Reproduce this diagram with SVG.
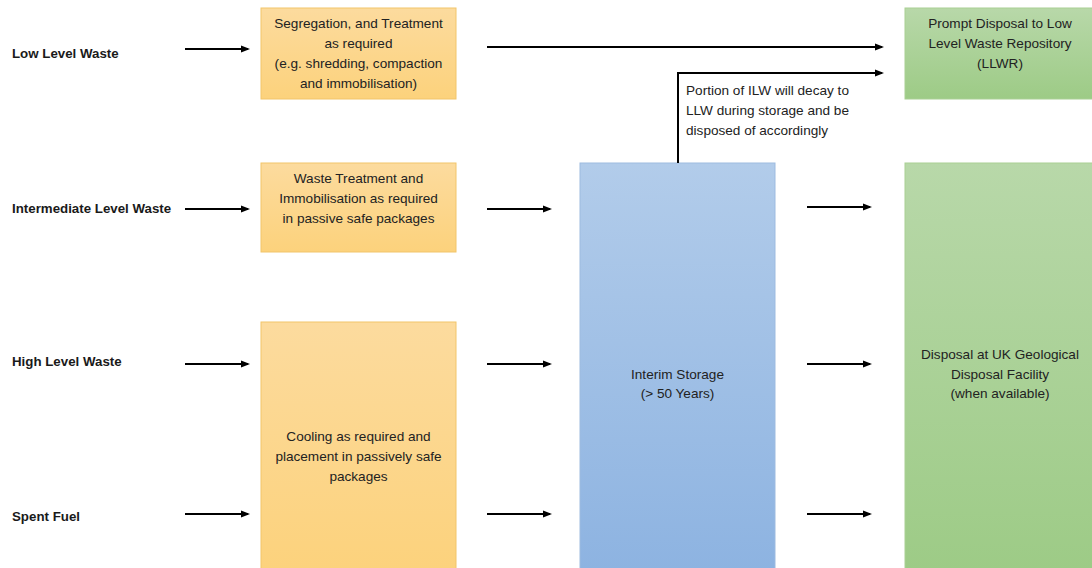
<svg xmlns="http://www.w3.org/2000/svg" width="1092" height="568" viewBox="0 0 1092 568">
<style>
.lbl{font-family:"Liberation Sans",Arial,sans-serif;font-size:13.3px;font-weight:bold;fill:#1a1a1a}
.t{font-family:"Liberation Sans",Arial,sans-serif;font-size:13.6px;fill:#222;text-anchor:middle}
.tl{font-family:"Liberation Sans",Arial,sans-serif;font-size:13.6px;fill:#222}
.conn{stroke:#000;stroke-width:2;fill:none;marker-end:url(#ah)}
.or{fill:url(#gO);stroke:#F2C56A;stroke-width:1}
.bl{fill:url(#gB);stroke:#9DBBE0;stroke-width:1}
.gr{fill:url(#gG);stroke:#A9CF94;stroke-width:1}
</style>
<defs>
<marker id="ah" markerWidth="9" markerHeight="9" refX="7" refY="4.5" orient="auto" markerUnits="userSpaceOnUse"><path d="M0,1 L9,4.5 L0,8 Z" fill="#000"/></marker>
<linearGradient id="gO" x1="0" y1="0" x2="0" y2="1"><stop offset="0" stop-color="#FCDB9E"/><stop offset="1" stop-color="#FCD27C"/></linearGradient>
<linearGradient id="gB" x1="0" y1="0" x2="0" y2="1"><stop offset="0" stop-color="#B2CCEA"/><stop offset="1" stop-color="#8DB3E1"/></linearGradient>
<linearGradient id="gG" x1="0" y1="0" x2="0" y2="1"><stop offset="0" stop-color="#B8D8A9"/><stop offset="1" stop-color="#9DCB86"/></linearGradient>
</defs>
<rect width="1092" height="568" fill="#fff"/>
<g id="lbl-llw"><text class="lbl" x="12" y="58">Low Level Waste</text></g>
<g id="lbl-ilw"><text class="lbl" x="12" y="213">Intermediate Level Waste</text></g>
<g id="lbl-hlw"><text class="lbl" x="12" y="366">High Level Waste</text></g>
<g id="lbl-sf"><text class="lbl" x="12" y="521">Spent Fuel</text></g>
<g id="seg"><rect class="or" x="261" y="8" width="195" height="91"/>
<text class="t" x="358.5" y="28">Segregation, and Treatment</text>
<text class="t" x="358.5" y="48">as required</text>
<text class="t" x="358.5" y="68">(e.g. shredding, compaction</text>
<text class="t" x="358.5" y="88">and immobilisation)</text></g>
<g id="wt"><rect class="or" x="261" y="163" width="195" height="89"/>
<text class="t" x="358.5" y="183">Waste Treatment and</text>
<text class="t" x="358.5" y="203">Immobilisation as required</text>
<text class="t" x="358.5" y="223">in passive safe packages</text></g>
<g id="cool"><rect class="or" x="261" y="322" width="195" height="250"/>
<text class="t" x="358.5" y="441">Cooling as required and</text>
<text class="t" x="358.5" y="461">placement in passively safe</text>
<text class="t" x="358.5" y="481">packages</text></g>
<g id="store"><rect class="bl" x="580" y="163" width="195" height="409"/>
<text class="t" x="677.5" y="379">Interim Storage</text>
<text class="t" x="677.5" y="398">(&gt; 50 Years)</text></g>
<g id="llwr"><rect class="gr" x="905" y="8" width="192" height="91"/>
<text class="t" x="1000" y="28">Prompt Disposal to Low</text>
<text class="t" x="1000" y="48">Level Waste Repository</text>
<text class="t" x="1000" y="68">(LLWR)</text></g>
<g id="gdf"><rect class="gr" x="905" y="163" width="192" height="409"/>
<text class="t" x="1000" y="359">Disposal at UK Geological</text>
<text class="t" x="1000" y="379">Disposal Facility</text>
<text class="t" x="1000" y="398">(when available)</text></g>
<g id="note"><text class="tl" x="686" y="95">Portion of ILW will decay to</text>
<text class="tl" x="686" y="115">LLW during storage and be</text>
<text class="tl" x="686" y="135">disposed of accordingly</text></g>
<g id="connectors">
<path class="conn" d="M185,49 H248"/>
<path class="conn" d="M185,209 H248"/>
<path class="conn" d="M185,364 H248"/>
<path class="conn" d="M185,514 H248"/>
<path class="conn" d="M487,47 H882"/>
<path class="conn" d="M678,163 V73 H882"/>
<path class="conn" d="M487,209 H550"/>
<path class="conn" d="M487,364 H550"/>
<path class="conn" d="M487,514 H550"/>
<path class="conn" d="M807,207 H870"/>
<path class="conn" d="M807,364 H870"/>
<path class="conn" d="M807,514 H870"/>
</g>
</svg>
